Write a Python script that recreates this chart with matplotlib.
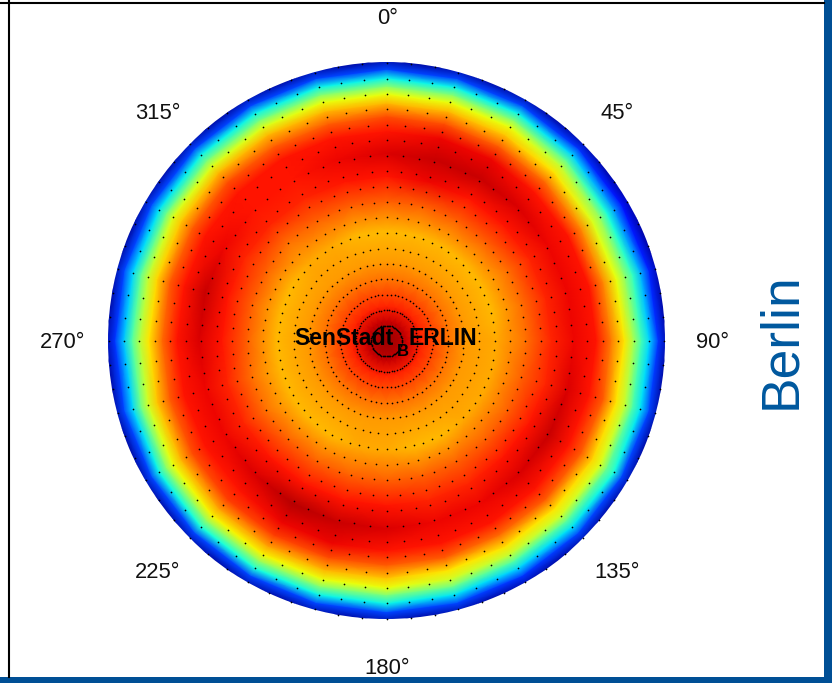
import matplotlib
matplotlib.use('Agg')
import matplotlib.pyplot as plt
import numpy as np
from matplotlib.patches import Rectangle
from matplotlib.lines import Line2D

W = 832
H = 683

# radiance table, values are positions on the jet scale (0-1)
ring_radius = [0, 20, 35, 60, 80, 110, 140, 165, 188, 210, 225, 238, 247, 255, 263, 272, 284]
azimuth = np.arange(0, 360, 15)
radiance = [
    [.97]*24,
    [.93]*24,
    [.87]*24,
    [.79]*24,
    [.74]*24,
    [.71, .71, .71, .71, .71, .71, .72, .72, .72, .72, .71, .71, .72, .72, .71, .71, .71, .71, .71, .71, .71, .72, .72, .71],
    [.81, .81, .81, .80, .79, .79, .79, .80, .80, .80, .80, .80, .80, .81, .81, .80, .79, .79, .80, .80, .80, .79, .80, .80],
    [.89, .895, .89, .88, .87, .865, .865, .87, .88, .88, .87, .87, .88, .89, .89, .88, .865, .865, .875, .88, .87, .865, .865, .88],
    [.915, .935, .93, .91, .90, .895, .90, .91, .925, .915, .905, .90, .91, .935, .945, .915, .895, .895, .915, .935, .905, .89, .885, .895],
    [.89, .90, .90, .89, .88, .88, .88, .885, .89, .89, .885, .885, .89, .90, .90, .89, .885, .885, .89, .89, .89, .885, .885, .89],
    [.82, .82, .81, .79, .76, .76, .78, .80, .81, .80, .79, .80, .81, .82, .83, .83, .82, .81, .79, .80, .81, .82, .81, .81],
    [.71, .71, .70, .67, .62, .63, .66, .67, .68, .67, .66, .67, .69, .71, .72, .72, .71, .69, .66, .68, .70, .71, .71, .71],
    [.63, .63, .63, .58, .52, .53, .56, .59, .61, .60, .58, .60, .625, .64, .65, .65, .63, .60, .57, .59, .61, .62, .62, .63],
    [.50, .50, .50, .46, .39, .41, .43, .45, .47, .46, .44, .47, .49, .51, .53, .53, .50, .47, .44, .46, .48, .49, .49, .50],
    [.37, .37, .37, .33, .28, .30, .33, .35, .375, .35, .33, .35, .37, .37, .375, .375, .36, .34, .32, .34, .35, .36, .36, .37],
    [.20, .20, .20, .18, .15, .16, .18, .19, .20, .19, .18, .19, .20, .20, .20, .20, .20, .19, .18, .19, .19, .20, .20, .20],
    [.03]*24,
]

# sample grid of the sky scan
scan_ring_step = 15.44
scan_rings = 18
scan_az_step = 5

angle_ticks = [0, 45, 90, 135, 180, 225, 270, 315]
angle_labels = ['0°', '45°', '90°', '135°', '180°', '225°', '270°', '315°']

plt.rcParams['font.family'] = ['Liberation Sans', 'DejaVu Sans']


def fx(x):
    return x / W


def fy(y):
    return 1 - y / H


fig = plt.figure(figsize=(W / 100, H / 100), dpi=100, facecolor='white')

# polar axes sits exactly on the disc
cx, cy, rmax = 386.5, 341, 278.5
ax = fig.add_axes([fx(cx - rmax), fy(cy + rmax), 2 * rmax / W, 2 * rmax / H], projection='polar')
ax.set_theta_zero_location('N')
ax.set_theta_direction(-1)

theta = np.deg2rad(np.append(azimuth, 360))
values = np.array(radiance)
values = np.column_stack([values, values[:, 0]])
cmap = plt.get_cmap('jet', 64)
ax.pcolormesh(theta, ring_radius, values, cmap=cmap, vmin=0, vmax=1, shading='gouraud')

# scan points
th_s, r_s = np.meshgrid(np.deg2rad(np.arange(0, 360, scan_az_step)),
                        scan_ring_step * np.arange(1, scan_rings + 1))
ax.scatter(th_s.ravel(), r_s.ravel(), s=1.5, c='black', linewidths=0, zorder=3, clip_on=False)

ax.set_ylim(0, rmax)
ax.grid(False)
ax.set_xticks([])
ax.set_yticks([])
ax.spines['polar'].set_visible(False)

for a, lab in zip(angle_ticks, angle_labels):
    ax.annotate(lab, xy=(np.deg2rad(a), 325), xytext=(1, -2), textcoords='offset pixels',
                ha='center', va='center', fontsize=15.8, color='#111111', annotation_clip=False)

# logo text in the middle
fig.text(fx(294), fy(345), 'SenStadt', fontsize=16.6, fontweight='bold', color='#000000', ha='left', va='baseline')
fig.text(fx(396.5), fy(356), 'B', fontsize=12, fontweight='bold', color='#000000', ha='left', va='baseline')
fig.text(fx(409), fy(345), 'ERLIN', fontsize=16.6, fontweight='bold', color='#000000', ha='left', va='baseline')

# side label
fig.text(fx(806), fy(341), 'Berlin', fontsize=38.4, color='#00589e', rotation=90,
         ha='right', va='center')

# frame
fig.add_artist(Line2D([fx(0), fx(824)], [fy(3), fy(3)], color='black', lw=1.5))
fig.add_artist(Line2D([fx(9), fx(9)], [fy(0), fy(677)], color='black', lw=1.5))
border = '#004f95'
fig.add_artist(Rectangle((fx(824), 0), 8 / W, 1, transform=fig.transFigure, color=border, lw=0))
fig.add_artist(Rectangle((0, 0), 1, 6 / H, transform=fig.transFigure, color=border, lw=0))

fig.savefig('out.png', dpi=100)
